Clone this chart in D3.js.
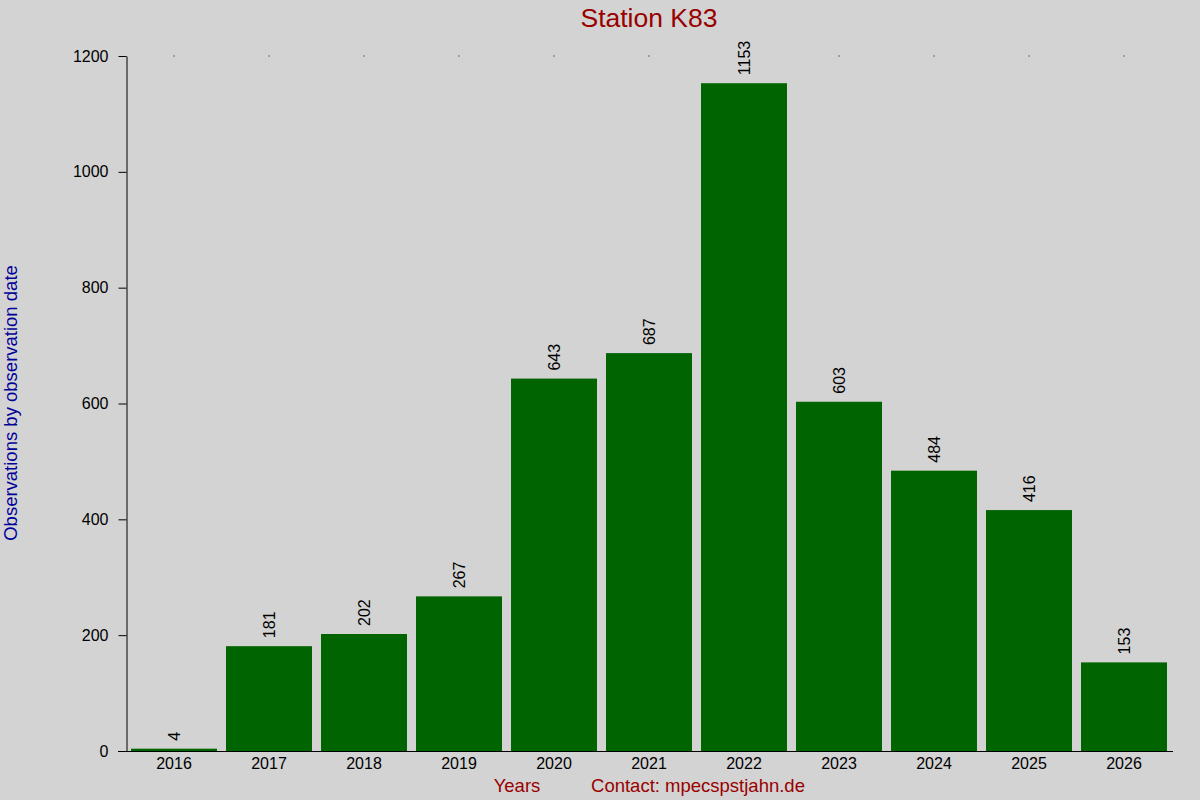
<!DOCTYPE html>
<html><head><meta charset="utf-8">
<script src="https://cdn.jsdelivr.net/npm/d3@7"></script>
<style>body{margin:0;background:#d3d3d3}svg{display:block}text{font-family:"Liberation Sans",Arial,sans-serif}</style>
</head><body><svg id="c" width="1200" height="800"></svg>
<script>
const years = ["2016","2017","2018","2019","2020","2021","2022","2023","2024","2025","2026"];
const counts = [4,181,202,267,643,687,1153,603,484,416,153];
const yTicks = [0,200,400,600,800,1000,1200];

const svg = d3.select("#c");
svg.append("rect").attr("width",1200).attr("height",800).attr("fill","#d3d3d3");
const pLeft=126.5, pRight=1171.5, pTop=56, pBottom=751;
const x = d3.scaleBand().domain(years).range([pLeft,pRight]).paddingInner(0.095).paddingOuter(0.0475);
const y = d3.scaleLinear().domain([0,1200]).range([pBottom,pTop]);

svg.selectAll("rect.bar").data(years).enter().append("rect").attr("class","bar")
  .attr("x",d=>x(d)).attr("width",x.bandwidth())
  .attr("y",(d,i)=>y(counts[i])).attr("height",(d,i)=>y(0)-y(counts[i]))
  .attr("fill","#006400");

const yAxis = svg.append("g").attr("transform",`translate(${pLeft},0)`)
  .call(d3.axisLeft(y).tickValues(yTicks).tickFormat(d3.format("d")).tickSize(8).tickPadding(10).tickSizeOuter(0));
yAxis.select(".domain").attr("stroke","#000");
yAxis.selectAll("text").attr("font-size",16).attr("fill","#000");

const xAxis = svg.append("g").attr("transform",`translate(0,${pBottom})`)
  .call(d3.axisBottom(x).tickSize(0).tickPadding(7));
xAxis.select(".domain").attr("d",`M118,0.5H1173`).attr("stroke","#000");
xAxis.selectAll("text").attr("font-size",16).attr("fill","#000").attr("dy","0.71em");

svg.selectAll("rect.dot").data(years).enter().append("rect").attr("class","dot")
  .attr("x",d=>x(d)+x.bandwidth()/2-0.5).attr("y",pTop-0.5).attr("width",1).attr("height",1).attr("fill","#000");

svg.selectAll("text.val").data(years).enter().append("text").attr("class","val")
  .attr("transform",(d,i)=>`translate(${x(d)+x.bandwidth()/2+5.5},${y(counts[i])-8}) rotate(-90)`)
  .attr("font-size",16).attr("fill","#000").text((d,i)=>counts[i]);

svg.append("text").attr("x",649).attr("y",27).attr("text-anchor","middle")
  .attr("font-size",26.5).attr("fill","#990000").text("Station K83");
svg.append("text").attr("transform","translate(17,403) rotate(-90)").attr("text-anchor","middle")
  .attr("font-size",18.5).attr("fill","#000099").text("Observations by observation date");
svg.append("text").attr("x",517).attr("y",792).attr("text-anchor","middle")
  .attr("font-size",18.5).attr("fill","#990000").text("Years");
svg.append("text").attr("x",698).attr("y",792).attr("text-anchor","middle")
  .attr("font-size",18.5).attr("fill","#990000").text("Contact: mpecspstjahn.de");
</script></body></html>
